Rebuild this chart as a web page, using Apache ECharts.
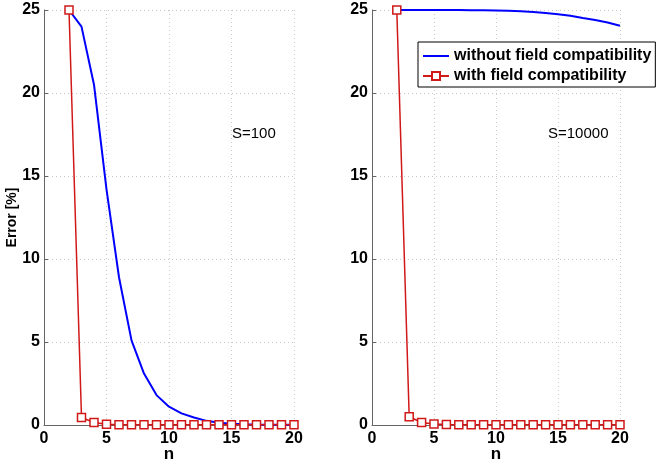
<!DOCTYPE html>
<html><head><meta charset="utf-8">
<script src="https://cdn.jsdelivr.net/npm/echarts@6/dist/echarts.min.js"></script>
<style>html,body{margin:0;padding:0;background:#fff}#c{width:658px;height:466px}</style>
</head><body><div id="c"></div>
<script>
const n = [2,3,4,5,6,7,8,9,10,11,12,13,14,15,16,17,18,19,20];
const leftWithout = [25,24.0,20.5,14.2,8.9,5.1,3.1,1.8,1.1,0.7,0.45,0.25,0.13,0.08,0.05,0.03,0.02,0.01,0.01];
const leftWith = [25,0.45,0.15,0.05,0.02,0.02,0.02,0.02,0.02,0.02,0.02,0.02,0.02,0.02,0.02,0.02,0.02,0.02,0.02];
const rightWithout = [25,25,25,25,25,25,24.99,24.98,24.97,24.95,24.92,24.88,24.82,24.75,24.65,24.52,24.4,24.25,24.05];
const rightWith = [25,0.5,0.15,0.06,0.03,0.02,0.02,0.02,0.02,0.02,0.02,0.02,0.02,0.02,0.02,0.02,0.02,0.02,0.02];
const xTicks = [0,5,10,15,20];
const yTicks = [0,5,10,15,20,25];
const panelLabels = ['S=100','S=10000'];
const names = ['without field compatibility','with field compatibility'];

const pair = a => n.map((v,i)=>[v,a[i]]);
const font = 'Liberation Sans, Arial, Helvetica, sans-serif';
const BLUE = '#0000ff', RED = '#d01818';

function xAxis(idx){
  return {gridIndex:idx,type:'value',min:xTicks[0],max:xTicks[xTicks.length-1],interval:5,
    name:'n',nameLocation:'middle',nameGap:21,nameMoveOverlap:false,
    nameTextStyle:{fontFamily:font,fontWeight:'bold',fontSize:17,color:'#000'},
    axisLine:{show:true,lineStyle:{color:'#666',width:1}},
    axisTick:{show:true,inside:true,length:4,lineStyle:{color:'#666'}},
    axisLabel:{fontFamily:font,fontWeight:'bold',fontSize:16,color:'#000',margin:6},
    splitLine:{show:true,lineStyle:{color:'#c8c8c8',type:[1,3]}}};
}
function yAxis(idx){
  return {gridIndex:idx,type:'value',min:yTicks[0],max:yTicks[yTicks.length-1],interval:5,
    name: idx===0 ? 'Error [%]' : '', nameLocation:'middle',nameGap:25,nameMoveOverlap:false,
    nameTextStyle:{fontFamily:font,fontWeight:'bold',fontSize:14,color:'#000'},
    axisLine:{show:true,lineStyle:{color:'#666',width:1}},
    axisTick:{show:true,inside:true,length:4,lineStyle:{color:'#666'}},
    axisLabel:{fontFamily:font,fontWeight:'bold',fontSize:16,color:'#000',margin:4},
    splitLine:{show:true,lineStyle:{color:'#c8c8c8',type:[1,3]}}};
}
function blue(idx,data){
  return {name:names[0],type:'line',xAxisIndex:idx,yAxisIndex:idx,data:pair(data),
    showSymbol:false,symbol:'none',lineStyle:{color:BLUE,width:2},itemStyle:{color:BLUE},z:2};
}
function red(idx,data){
  return {name:names[1],type:'line',xAxisIndex:idx,yAxisIndex:idx,data:pair(data),
    symbol:'rect',symbolSize:8,showSymbol:true,
    lineStyle:{color:RED,width:1.5},itemStyle:{color:'#fff',borderColor:RED,borderWidth:1.5},z:3};
}
const chart = echarts.init(document.getElementById('c'),null,{renderer:'canvas'});
chart.setOption({
  animation:false,
  backgroundColor:'#fff',
  grid:[{left:44,right:364,top:10,bottom:41,containLabel:false,outerBoundsMode:'none'},
        {left:372,right:38,top:10,bottom:41,containLabel:false,outerBoundsMode:'none'}],
  xAxis:[xAxis(0),xAxis(1)],
  yAxis:[yAxis(0),yAxis(1)],
  legend:{show:true,left:418,top:42,orient:'vertical',itemGap:4,itemWidth:26,itemHeight:10,
    padding:[6,4,3,4],borderColor:'#000',borderWidth:1,backgroundColor:'#fff',
    textStyle:{fontFamily:font,fontWeight:'bold',fontSize:16,color:'#000'},
    data:[{name:names[0],itemStyle:{opacity:0}},{name:names[1]}]},
  graphic:[
    {type:'text',left:232,top:126,style:{text:panelLabels[0],font:'15px '+font,fill:'#000'}},
    {type:'text',left:548,top:126,style:{text:panelLabels[1],font:'15px '+font,fill:'#000'}}
  ],
  series:[blue(0,leftWithout),red(0,leftWith),blue(1,rightWithout),red(1,rightWith)]
});
</script></body></html>
